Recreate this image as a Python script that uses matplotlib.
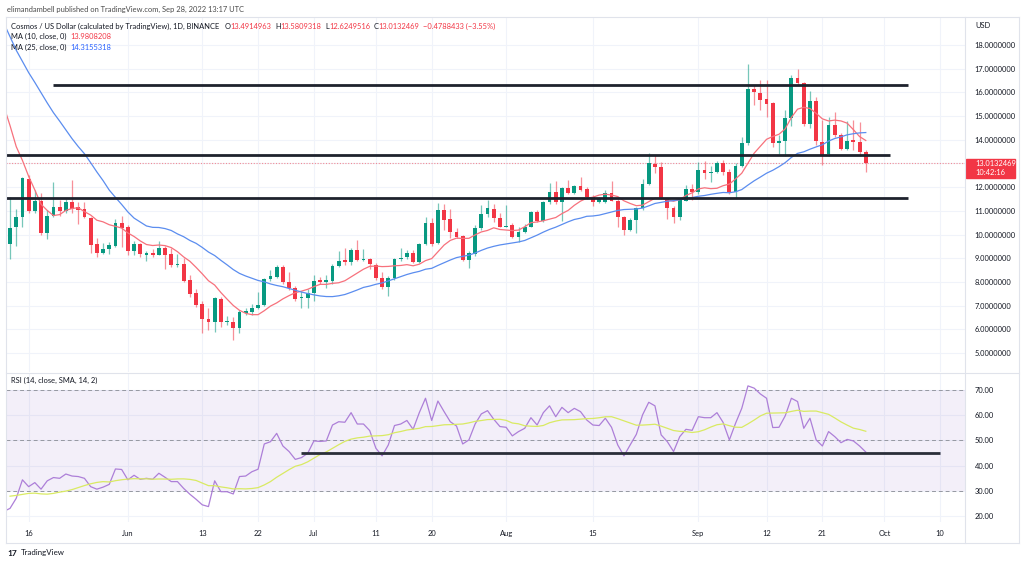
import numpy as np
import pandas as pd
import matplotlib
matplotlib.use('Agg')
import matplotlib.pyplot as plt
import matplotlib.dates as mdates
import matplotlib.transforms as mtransforms
from matplotlib.lines import Line2D
from matplotlib.patches import Rectangle

plt.rcParams['font.family'] = ['Lato', 'DejaVu Sans']

# ATOM/USD daily candles, 13 May - 28 Sep 2022
opens = [9.60, 10.31, 10.75, 12.33, 11.00, 11.42, 10.08, 10.78, 11.15, 11.00,
         11.37, 11.15, 11.07, 10.71, 9.59, 9.24, 9.39, 9.52, 10.48, 10.31,
         9.31, 9.60, 9.14, 9.24, 9.14, 9.42, 9.17, 8.72, 8.75, 8.08,
         7.52, 7.06, 6.44, 6.30, 7.28, 6.30, 6.33, 6.05, 6.70, 6.75,
         6.92, 7.03, 8.11, 8.22, 8.62, 8.01, 7.73, 7.31, 7.34, 7.52,
         8.08, 8.01, 8.04, 8.69, 8.93, 8.86, 9.35, 8.93, 8.96, 8.72,
         8.16, 7.78, 8.16, 8.96, 9.04, 9.21, 8.86, 9.60, 10.50, 9.66,
         11.04, 10.64, 10.12, 9.94, 8.93, 9.19, 10.29, 10.86, 11.10, 10.69,
         10.34, 10.41, 9.91, 10.12, 10.33, 10.97, 10.59, 11.36, 11.81, 11.39,
         11.98, 11.74, 12.06, 11.91, 11.60, 11.39, 11.39, 11.74, 11.43, 10.76,
         10.19, 10.62, 11.11, 12.12, 12.98, 12.87, 11.49, 11.11, 10.75, 11.43,
         11.91, 11.78, 12.73, 12.60, 12.63, 13.03, 12.63, 11.78, 12.91, 13.88,
         16.14, 15.96, 15.71, 15.54, 13.85, 13.95, 14.90, 16.59, 16.40, 14.66,
         15.64, 13.89, 13.39, 14.62, 14.20, 13.61, 13.99, 13.89, 13.4914963]
highs = [11.60, 11.07, 12.45, 12.50, 11.90, 11.75, 11.04, 12.20, 11.46, 11.50,
         12.30, 11.37, 11.37, 10.75, 9.84, 9.66, 9.70, 10.64, 10.78, 10.40,
         9.72, 9.65, 9.30, 9.40, 9.73, 9.50, 9.45, 9.18, 9.00, 8.30,
         7.70, 7.20, 6.90, 7.35, 7.35, 6.55, 6.54, 6.82, 6.90, 7.05,
         7.59, 8.15, 8.52, 8.70, 8.70, 8.43, 7.85, 7.60, 7.70, 8.30,
         8.20, 8.30, 8.75, 9.32, 9.43, 9.45, 9.75, 9.40, 9.00, 8.80,
         8.40, 8.25, 9.00, 9.43, 9.35, 9.35, 9.65, 10.75, 10.70, 11.32,
         11.30, 11.10, 10.26, 10.00, 9.30, 10.40, 11.25, 11.45, 11.30, 10.90,
         11.25, 10.50, 10.30, 10.45, 11.00, 11.05, 11.40, 12.19, 12.27, 12.00,
         12.30, 12.10, 12.41, 12.00, 11.65, 11.60, 11.90, 12.27, 11.50, 10.80,
         10.70, 11.15, 12.33, 13.43, 13.35, 13.08, 11.50, 11.20, 11.50, 12.10,
         12.15, 13.08, 13.10, 12.90, 13.10, 13.15, 12.77, 13.00, 14.13, 17.19,
         16.30, 16.52, 16.52, 15.60, 14.20, 15.26, 16.73, 16.98, 16.45, 16.06,
         15.82, 14.84, 14.97, 15.19, 14.30, 14.80, 14.84, 14.73, 13.5809318]
lows = [8.96, 9.52, 10.30, 10.90, 10.90, 9.98, 9.80, 10.75, 10.78, 10.90,
        10.90, 10.45, 10.70, 9.24, 9.04, 9.18, 9.20, 9.48, 9.48, 9.14,
        9.14, 9.06, 8.90, 9.06, 9.12, 8.55, 8.65, 8.65, 8.00, 7.35,
        6.96, 5.84, 5.97, 5.90, 6.10, 6.20, 5.55, 5.84, 6.62, 6.60,
        6.85, 7.00, 8.05, 8.18, 7.90, 7.68, 7.20, 6.90, 6.90, 7.20,
        7.90, 7.75, 7.90, 8.65, 8.70, 8.70, 8.88, 8.90, 8.55, 8.10,
        7.70, 7.40, 8.10, 8.90, 8.95, 8.80, 8.80, 9.55, 9.50, 9.62,
        10.20, 9.84, 9.84, 8.90, 8.58, 9.10, 10.20, 10.75, 10.55, 10.30,
        10.30, 9.85, 9.70, 10.05, 10.30, 10.55, 10.55, 11.30, 11.30, 10.57,
        11.70, 11.70, 11.85, 11.50, 11.20, 11.35, 11.35, 11.40, 10.30, 9.98,
        10.15, 10.05, 11.05, 12.10, 12.59, 11.50, 10.67, 10.50, 10.60, 11.40,
        11.45, 11.70, 12.35, 12.20, 12.60, 12.50, 11.70, 11.55, 12.85, 13.80,
        15.47, 15.26, 14.97, 13.70, 13.40, 13.30, 14.60, 16.30, 14.60, 14.50,
        13.78, 12.94, 13.30, 14.10, 13.55, 13.55, 13.57, 13.30, 12.6249516]
closes = [10.29, 10.73, 12.38, 11.00, 11.42, 10.08, 10.78, 11.15, 11.00, 11.37,
          11.10, 11.05, 10.73, 9.56, 9.24, 9.39, 9.56, 10.48, 10.27, 9.31,
          9.60, 9.18, 9.21, 9.14, 9.45, 9.14, 8.72, 8.76, 8.05, 7.49,
          7.03, 6.44, 6.30, 7.31, 6.30, 6.35, 6.05, 6.72, 6.78, 6.92,
          7.03, 8.11, 8.25, 8.65, 8.00, 7.73, 7.28, 7.38, 7.55, 8.04,
          8.01, 8.08, 8.69, 8.90, 8.86, 9.35, 8.93, 8.98, 8.75, 8.16,
          7.78, 8.16, 8.96, 9.03, 9.21, 8.86, 9.60, 10.50, 9.60, 11.04,
          10.62, 10.12, 9.91, 8.93, 9.24, 10.29, 10.86, 11.14, 10.70, 10.33,
          10.38, 9.91, 10.12, 10.33, 10.97, 10.59, 11.36, 11.81, 11.39, 11.98,
          11.74, 12.06, 11.88, 11.57, 11.39, 11.49, 11.74, 11.43, 10.76, 10.19,
          10.62, 11.11, 12.12, 13.01, 12.87, 11.53, 11.11, 10.75, 11.45, 11.91,
          11.78, 12.73, 12.60, 12.65, 13.03, 12.63, 11.78, 12.91, 13.88, 16.14,
          16.00, 15.68, 15.51, 13.85, 13.95, 14.90, 16.62, 16.40, 14.66, 15.64,
          13.95, 13.36, 14.62, 14.20, 13.61, 13.95, 13.89, 13.47, 13.0132469]

# estimated closes 18 Apr - 12 May (off screen, only feed the moving averages)
prior_closes = [24.5, 25.0, 24.2, 22.8, 21.8, 21.0, 21.5, 21.4, 19.9, 20.6,
                20.4, 19.4, 18.3, 19.0, 19.0, 18.5, 19.6, 18.2, 17.7, 17.2,
                16.1, 13.4, 13.3, 10.6, 9.6]

# RSI(14) read off the lower pane, plus estimated values 30 Apr - 12 May
rsi = [23.1, 27.1, 34.4, 31.7, 33.3, 30.7, 34.0, 35.3, 35.0, 36.7,
       35.9, 35.7, 35.0, 31.7, 30.7, 31.5, 32.6, 38.7, 38.5, 34.4,
       36.2, 34.6, 35.0, 34.6, 37.0, 35.4, 33.7, 33.7, 31.0, 28.7,
       26.7, 24.5, 23.8, 34.0, 29.7, 29.7, 28.8, 35.7, 35.9, 37.6,
       38.6, 48.6, 49.5, 52.8, 47.8, 45.6, 42.5, 43.2, 44.9, 49.8,
       49.6, 49.8, 56.1, 57.4, 57.2, 61.0, 56.5, 56.5, 53.9, 46.9,
       43.9, 48.2, 55.9, 56.5, 57.9, 54.4, 61.0, 66.7, 57.9, 65.6,
       61.4, 57.4, 55.7, 48.6, 50.2, 56.5, 60.5, 61.8, 58.4, 55.5,
       55.2, 51.8, 53.5, 54.8, 59.0, 56.1, 61.0, 63.7, 59.4, 63.1,
       61.0, 62.7, 61.4, 58.1, 56.1, 55.9, 58.8, 55.2, 48.2, 43.9,
       48.2, 52.4, 60.1, 65.1, 63.7, 52.2, 49.5, 45.6, 51.5, 54.4,
       54.0, 59.4, 59.0, 59.0, 61.0, 57.1, 50.2, 56.8, 62.7, 71.6,
       70.7, 68.4, 66.7, 55.1, 55.2, 59.7, 66.7, 65.4, 54.8, 58.8,
       50.2, 47.8, 53.5, 51.5, 49.1, 50.4, 49.8, 47.8, 45.41]
rsi_prior = [22.9, 28.8, 26.1, 31.9, 34.9, 35.4, 31.1, 28.0, 31.1, 27.5,
             24.5, 23.8, 21.9]

# hand drawn levels
levels = [16.31, 13.36, 11.54]
level_from = ['2022-05-20', '2022-05-01', '2022-05-01']
level_to = ['2022-10-04 19:00', '2022-10-01 22:00', '2022-10-04 19:00']
rsi_level = 45.0
rsi_level_from, rsi_level_to = '2022-06-28 22:00', '2022-10-10'

tick_dates = ['2022-05-16', '2022-06-01', '2022-06-13', '2022-06-22', '2022-07-01',
              '2022-07-11', '2022-07-20', '2022-08-01', '2022-08-15', '2022-09-01',
              '2022-09-12', '2022-09-21', '2022-10-01', '2022-10-10']
tick_labels = ['16', 'Jun', '13', '22', 'Jul', '11', '20', 'Aug', '15', 'Sep',
               '12', '21', 'Oct', '10']

W, H = 1024, 565
UP, DOWN = '#089981', '#f23645'
TXT = '#131722'
GRID = '#f0f3fa'
FRAME = '#e0e3eb'
FS = 5.4

dates = pd.date_range('2022-05-13', periods=len(closes))
x = mdates.date2num(dates)
o, h, l, c = map(np.array, (opens, highs, lows, closes))

full = pd.Series(prior_closes + closes,
                 index=pd.date_range('2022-04-18', periods=len(prior_closes) + len(closes)))
ma10 = full.rolling(10).mean().dropna()
ma25 = full.rolling(25).mean().dropna()

rsi_full = pd.Series(rsi_prior + rsi,
                     index=pd.date_range('2022-04-30', periods=len(rsi_prior) + len(rsi)))
rsi_ma = rsi_full.rolling(14).mean().dropna()


def fx(px):
    return px / W


def fy(py):
    return 1 - py / H


fig = plt.figure(figsize=(W / 100, H / 100), dpi=100, facecolor='white')
ax = fig.add_axes([fx(6), fy(372), fx(965) - fx(6), fy(18) - fy(372)])
ax2 = fig.add_axes([fx(6), fy(522), fx(965) - fx(6), fy(373) - fy(522)], sharex=ax)

x0 = mdates.date2num(pd.Timestamp('2022-05-13')) - 0.65
x1 = mdates.date2num(pd.Timestamp('2022-05-13')) + 154.0
ax.set_xlim(x0, x1)
ax.set_ylim(4.20, 19.14)
ax2.set_ylim(17.7, 76.7)

tick_x = mdates.date2num(pd.to_datetime(tick_dates))
for a in (ax, ax2):
    for s in a.spines.values():
        s.set_visible(False)
    a.set_axisbelow(True)
    a.set_xticks(tick_x)
    a.grid(True, color=GRID, lw=0.8)
    a.yaxis.tick_right()
    a.tick_params(axis='y', length=0, pad=7, labelsize=FS, labelcolor=TXT)
    a.tick_params(axis='x', length=0)
ax.tick_params(labelbottom=False)
ax2.set_xticklabels(tick_labels)
ax2.tick_params(axis='x', pad=6, labelsize=FS, labelcolor=TXT)

ax.set_yticks(range(5, 19))
ax.set_yticklabels([f'{v:.7f}' for v in range(5, 19)])
ax2.set_yticks(range(20, 71, 10))
ax2.set_yticklabels([f'{v:.2f}' for v in range(20, 71, 10)])

# candles
up = c >= o
body_col = np.where(up, UP, DOWN)
wick_col = [(*matplotlib.colors.to_rgb(col), 0.55) for col in body_col]
ax.vlines(x, l, h, colors=wick_col, lw=0.9, zorder=2)
height = np.maximum(np.abs(c - o), 0.04)
ax.bar(x, height, width=0.62, bottom=np.minimum(o, c), color=body_col, lw=0, zorder=3)

# moving averages
ax.plot(mdates.date2num(ma10.index), ma10.values, color='#f7717c', lw=0.9, zorder=4)
ax.plot(mdates.date2num(ma25.index), ma25.values, color='#5b8def', lw=0.9, zorder=4)

# drawn levels + last price
for lev, a, b in zip(levels, level_from, level_to):
    ax.hlines(lev, mdates.date2num(pd.Timestamp(a)), mdates.date2num(pd.Timestamp(b)),
              color='#1e222d', lw=2.0, zorder=5)
ax.axhline(closes[-1], color=DOWN, lw=0.8, ls=(0, (1, 1.5)), alpha=0.55, zorder=1)

blend = mtransforms.blended_transform_factory(ax.transAxes, ax.transData)
ax.add_patch(Rectangle((1.0 + 1 / 959, 12.39), 49 / 959, 0.80, transform=blend,
                       color=DOWN, clip_on=False, zorder=6))
ax.text(1.0 + 10 / 959, 12.98, f'{closes[-1]:.7f}', transform=blend, color='white',
        fontsize=FS, va='center', ha='left', clip_on=False, zorder=7)
ax.text(1.0 + 10 / 959, 12.64, '10:42:16', transform=blend, color='white',
        fontsize=FS, va='center', ha='left', clip_on=False, zorder=7)

# RSI pane
ax2.axhspan(30, 70, color='#7e57c2', alpha=0.09, lw=0)
for v in (30, 50, 70):
    ax2.axhline(v, color='#9598a1', lw=0.7, ls=(0, (4, 3)))
ax2.plot(mdates.date2num(rsi_full.index), rsi_full.values, color='#ad7fd8', lw=0.9)
ax2.plot(mdates.date2num(rsi_ma.index), rsi_ma.values, color='#d9ea62', lw=0.9)
ax2.hlines(rsi_level, mdates.date2num(pd.Timestamp(rsi_level_from)),
           mdates.date2num(pd.Timestamp(rsi_level_to)), color='#2a2e39', lw=2.0)

# frame
frame = [((6, 17), (1019, 17)), ((6, 543), (1019, 543)), ((6, 17), (6, 543)),
         ((1019, 17), (1019, 543)), ((965, 17), (965, 543)), ((6, 372.5), (1019, 372.5))]
for (ax_, ay_), (bx_, by_) in frame:
    fig.add_artist(Line2D([fx(ax_), fx(bx_)], [fy(ay_), fy(by_)], color=FRAME, lw=0.8))


# legends with mixed colours
def chain(x_px, y_px, parts, size=FS):
    t = fig.text(fx(x_px), fy(y_px), parts[0][0], color=parts[0][1], fontsize=size, va='center')
    for s, col, gap in parts[1:]:
        t = ax.annotate(s, xy=(1, 0), xycoords=t, xytext=(gap, 0), textcoords='offset points',
                        va='bottom', ha='left', color=col, fontsize=size, annotation_clip=False)


fig.text(fx(7), fy(9), 'elimandambell published on TradingView.com, Sep 28, 2022 13:17 UTC',
         fontsize=FS, color='#4a4a4a', va='center')
chain(11, 26, [('Cosmos / US Dollar (calculated by TradingView), 1D, BINANCE', TXT),
               ('O', TXT, 4), ('13.4914963', DOWN, 0), ('H', TXT, 2.5), ('13.5809318', DOWN, 0),
               ('L', TXT, 2.5), ('12.6249516', DOWN, 0), ('C', TXT, 2.5), ('13.0132469', DOWN, 0),
               ('\u22120.4788433 (\u22123.55%)', DOWN, 2.5)])
chain(11, 36.5, [('MA (10, close, 0)', TXT), ('13.9808208', DOWN, 3)])
chain(11, 47.5, [('MA (25, close, 0)', TXT), ('14.3155318', '#2962ff', 3)])
chain(11, 380, [('RSI (14, close, SMA, 14, 2)', TXT), ('45.41', '#ad7fd8', 3),
                ('53.61', '#c8d93a', 3), ('\u2205', '#555555', 3), ('\u2205', '#555555', 3)])
fig.text(fx(975), fy(25), 'USD', fontsize=FS, color=TXT, va='center')

fig.text(fx(7), fy(553), '17', fontsize=6, fontweight='bold', color=TXT, va='center')
fig.text(fx(21), fy(553), 'TradingView', fontsize=FS + 0.3, color=TXT, va='center')

fig.savefig('out.png', dpi=100, facecolor='white')
